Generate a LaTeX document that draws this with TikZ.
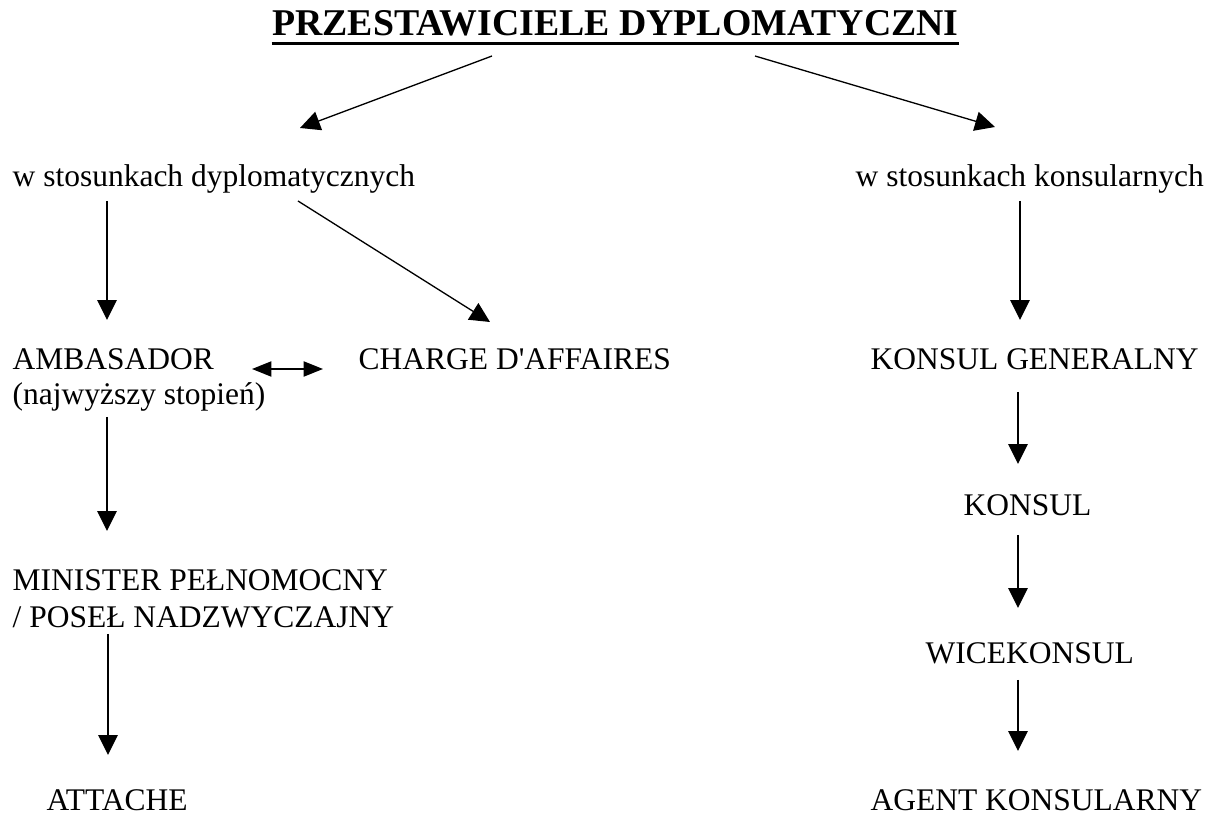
\documentclass[tikz,border=0pt]{standalone}
\usepackage{fontspec}
\setmainfont{Liberation Serif}
\usepackage{tikz}
\usetikzlibrary{calc,arrows.meta,positioning}

\begin{document}
\begin{tikzpicture}[x=0.381pt, y=-0.381pt, line width=0.5pt,
		label/.style={inner sep=0pt, anchor=base west, font=\fontsize{12}{14}\selectfont},
		arr/.style={-{Triangle[length=7.6pt,width=7.4pt]}},
		dbl/.style={{Triangle[length=7.4pt,width=5.8pt]}-{Triangle[length=7.4pt,width=5.8pt]}}]
		\useasboundingbox (0,0) rectangle (1224,814);
		% naglowek
		\node[inner sep=0pt, anchor=base, font=\fontsize{14.4}{17}\selectfont\bfseries] (title) at (615.5,36) {PRZESTAWICIELE DYPLOMATYCZNI};
		\draw[line width=1.1pt] ([yshift=-2.8pt]title.base west) -- ([yshift=-2.8pt]title.base east);
		% lewa strona
		\node[label] (dypl) at (12,187) {w stosunkach dyplomatycznych};
		\node[label] (amb) at (12,370) {AMBASADOR};
		\node[label] (ambnote) at (12,405) {(najwyższy stopień)};
		\node[label] (charge) at (358,370) {CHARGE D\textquotesingle AFFAIRES};
		\node[label] (min) at (12,591) {MINISTER PEŁNOMOCNY};
		\node[label] (minnote) at (12,628) {/ POSEŁ NADZWYCZAJNY};
		\node[label] (att) at (46,811) {ATTACHE};
		% prawa strona
		\node[label] (kons) at (855,187) {w stosunkach konsularnych};
		\node[label] (kgen) at (870,370) {KONSUL GENERALNY};
		\node[label] (konsul) at (963,516) {KONSUL};
		\node[label] (wice) at (925,664) {WICEKONSUL};
		\node[label] (agent) at (870,811) {AGENT KONSULARNY};
		% konce strzalek
		\coordinate (title-l) at (492,56);
		\coordinate (title-r) at (755,56);
		\coordinate (dypl-in) at (300,128);
		\coordinate (kons-in) at (995,127);
		\coordinate (dypl-a) at (107,201);
		\coordinate (amb-in) at (107,320);
		\coordinate (dypl-c) at (298,201);
		\coordinate (charge-in) at (490,322);
		\coordinate (kons-a) at (1020,201);
		\coordinate (kgen-in) at (1020,320);
		\coordinate (amb-out) at (107,417);
		\coordinate (min-in) at (107,531);
		\coordinate (min-out) at (108,634);
		\coordinate (att-in) at (108,755);
		\coordinate (kgen-out) at (1018,392);
		\coordinate (konsul-in) at (1018,464);
		\coordinate (konsul-out) at (1018,535);
		\coordinate (wice-in) at (1018,608);
		\coordinate (wice-out) at (1018,680);
		\coordinate (agent-in) at (1018,751);
		\coordinate (amb-r) at (252,369);
		\coordinate (charge-l) at (323,369);
		\foreach \a/\b in {title-l/dypl-in, title-r/kons-in, dypl-a/amb-in, dypl-c/charge-in,
			kons-a/kgen-in, amb-out/min-in, min-out/att-in, kgen-out/konsul-in,
			konsul-out/wice-in, wice-out/agent-in} {
			\draw[arr] (\a) -- (\b);
		}
		\draw[dbl] (amb-r) -- (charge-l);
	\end{tikzpicture}
\end{document}
